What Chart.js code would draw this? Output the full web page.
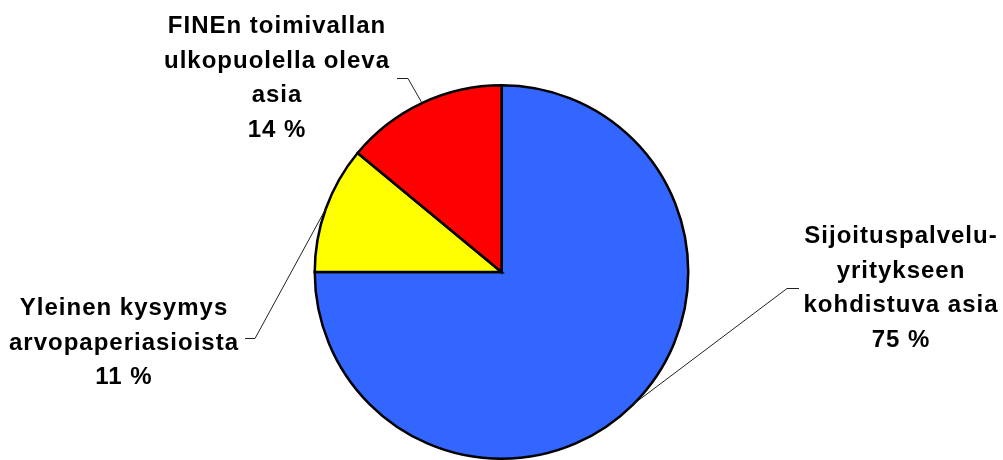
<!DOCTYPE html>
<html lang="fi">
<head>
  <meta charset="UTF-8">
  <title>Yhteydenotot aiheittain</title>
  <style>
    html, body {
      margin: 0;
      padding: 0;
      background: #ffffff;
    }
    #wrap {
      width: 1003px;
      height: 460px;
      position: relative;
    }
  </style>
</head>
<body>
  <div id="wrap">
    <canvas id="chartCanvas"></canvas>
  </div>

  <script src="https://cdn.jsdelivr.net/npm/chart.js"></script>

  <script>
    // data
    const categories = [
      ['Sijoituspalvelu-', 'yritykseen', 'kohdistuva asia'],
      ['Yleinen kysymys', 'arvopaperiasioista'],
      ['FINEn toimivallan', 'ulkopuolella oleva', 'asia']
    ];
    const shares = [75, 11, 14];
    const sliceColors = ['#3366FF', '#FFFF00', '#FF0000'];

    // label placement: text centre x, first baseline y, leader start and knee
    const labelBoxes = [
      { x: 901, y: 243, from: [799, 288], knee: [787, 288] },
      { x: 124, y: 315, from: [245, 338], knee: [255, 338] },
      { x: 277, y: 33,  from: [397, 78],  knee: [408, 78] }
    ];

    const lineGap = 34.5;

    const pieLabels = {
      id: 'pieLabels',
      afterDatasetsDraw(chart) {
        const ctx = chart.ctx;
        const arcs = chart.getDatasetMeta(0).data;
        ctx.save();
        arcs.forEach((arc, i) => {
          const box = labelBoxes[i];
          const mid = (arc.startAngle + arc.endAngle) / 2;
          const ex = arc.x + Math.cos(mid) * arc.outerRadius;
          const ey = arc.y + Math.sin(mid) * arc.outerRadius;

          // leader line
          ctx.strokeStyle = '#222';
          ctx.lineWidth = 1;
          ctx.beginPath();
          ctx.moveTo(box.from[0], box.from[1] + 0.5);
          ctx.lineTo(box.knee[0], box.knee[1] + 0.5);
          ctx.lineTo(ex, ey);
          ctx.stroke();

          // text
          const lines = categories[i].concat([shares[i] + ' %']);
          ctx.fillStyle = '#000';
          ctx.font = 'bold 24px "Liberation Sans", Arial, sans-serif';
          ctx.letterSpacing = '1px';
          ctx.textAlign = 'center';
          ctx.textBaseline = 'alphabetic';
          lines.forEach((t, k) => {
            ctx.fillText(t, box.x, box.y + k * lineGap);
          });
        });
        ctx.restore();
      }
    };

    const ctx = document.getElementById('chartCanvas').getContext('2d');
    new Chart(ctx, {
      type: 'pie',
      data: {
        labels: categories.map(c => c.join(' ')),
        datasets: [{
          data: shares,
          backgroundColor: sliceColors,
          borderColor: '#000',
          borderWidth: 2.5,
          borderJoinStyle: 'miter'
        }]
      },
      options: {
        responsive: true,
        maintainAspectRatio: false,
        animation: false,
        layout: {
          padding: { top: 84, bottom: 0, left: 0, right: 0 }
        },
        plugins: {
          legend: { display: false },
          tooltip: { enabled: false }
        }
      },
      plugins: [pieLabels]
    });
  </script>
</body>
</html>
